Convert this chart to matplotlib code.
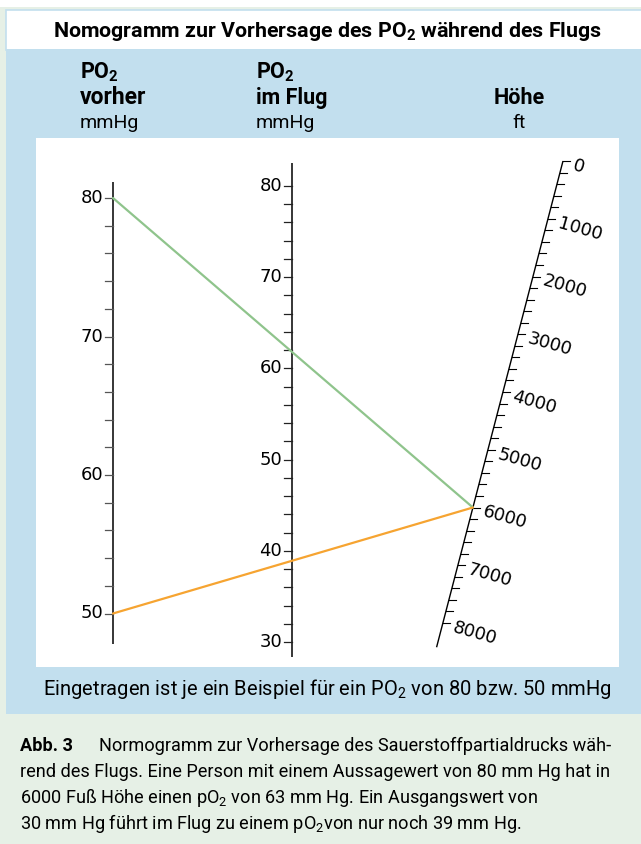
import matplotlib
matplotlib.use("Agg")
import numpy as np
import matplotlib.pyplot as plt
from matplotlib.patches import Rectangle

# scale ticks (mmHg before flight, mmHg in flight, altitude in ft)
pre_major = [50, 60, 70, 80]
pre_minor = np.arange(50, 81, 2)
flight_major = [30, 40, 50, 60, 70, 80]
flight_minor = np.arange(30, 81, 2)
alt_major = [0, 1000, 2000, 3000, 4000, 5000, 6000, 7000, 8000]
alt_minor = np.arange(0, 8001, 200)

# the two worked examples: PO2 before flight -> altitude
example_pre = [80, 50]
example_alt = [6000, 6000]
example_colors = ["#8fc48c", "#f6a431"]

plt.rcParams["mathtext.default"] = "regular"

BLUE = "#c2dfee"
GREEN = "#e6f0e6"


# pixel positions of the three nomogram scales
def pre_pos(v):
    return 113, 198 + (80 - v) * 13.85


def flight_pos(v):
    return 292, 186 + (80 - v) * 9.12


def alt_pos(h):
    y = 161 + h * 0.05775
    return 563 - (y - 161) * 0.26, y


fig = plt.figure(figsize=(6.41, 8.44), dpi=100, facecolor=GREEN)
ax = fig.add_axes([0, 0, 1, 1])
ax.set_xlim(0, 641)
ax.set_ylim(844, 0)
ax.axis("off")

# background boxes
ax.add_patch(Rectangle((0, 0), 641, 7, color="white", lw=0))
ax.add_patch(Rectangle((5.5, 10), 640, 40, facecolor="white", edgecolor=BLUE, lw=1.2))
ax.add_patch(Rectangle((6, 49), 635, 665, color=BLUE, lw=0))
ax.add_patch(Rectangle((36, 138), 583, 529, color="white", lw=0))

tf = dict(family=["Roboto", "DejaVu Sans"])
ax.text(328, 37, "Nomogramm zur Vorhersage des PO$_2$ während des Flugs", ha="center", va="baseline",
        fontsize=15.4, fontweight="bold", **tf)

# scale headers
ax.text(80, 78, "PO$_2$", fontsize=15.5, fontweight="bold", va="baseline", **tf)
ax.text(80, 104, "vorher", fontsize=16.5, fontweight="bold", va="baseline", **tf)
ax.text(80, 128, "mmHg", fontsize=14, va="baseline", **tf)
ax.text(256, 78, "PO$_2$", fontsize=15.5, fontweight="bold", va="baseline", **tf)
ax.text(256, 104, "im Flug", fontsize=15.5, fontweight="bold", va="baseline", **tf)
ax.text(256, 128, "mmHg", fontsize=14, va="baseline", **tf)
ax.text(519, 104, "Höhe", fontsize=15.5, fontweight="bold", va="baseline", ha="center", **tf)
ax.text(519, 128, "ft", fontsize=14, va="baseline", ha="center", **tf)

# left scale: PO2 before
x0, ytop = pre_pos(81.15)
_, ybot = pre_pos(47.8)
ax.plot([x0, x0], [ytop, ybot], color="black", lw=1.1, solid_capstyle="butt")
for v in pre_minor:
    x, y = pre_pos(v)
    ax.plot([x - 8, x], [y, y], color="#555555", lw=0.9)
for v in pre_major:
    x, y = pre_pos(v)
    ax.text(x - 10, y, str(v), ha="right", va="center", fontsize=13, family="DejaVu Sans")

# middle scale: PO2 in flight
x0, ytop = flight_pos(82.5)
_, ybot = flight_pos(28.4)
ax.plot([x0, x0], [ytop, ybot], color="black", lw=1.1, solid_capstyle="butt")
for v in flight_minor:
    x, y = flight_pos(v)
    ax.plot([x - 8, x], [y, y], color="#222222", lw=0.9)
for v in flight_major:
    x, y = flight_pos(v)
    ax.text(x - 10, y, str(v), ha="right", va="center", fontsize=13, family="DejaVu Sans")

# slanted altitude scale
xa, ya = alt_pos(0)
xb, yb = alt_pos(8420)
ax.plot([xa, xb], [ya, yb], color="black", lw=1.0, solid_capstyle="butt")
for h in alt_minor:
    x, y = alt_pos(h)
    ax.plot([x, x + 7], [y, y], color="black", lw=0.8)
for h in alt_major:
    x, y = alt_pos(h)
    ax.text(x + 10, y + 4, str(h), ha="left", va="center", rotation=-16, rotation_mode="anchor",
            fontsize=13, family="DejaVu Sans")

# example lines
for pre, alt, col in zip(example_pre, example_alt, example_colors):
    p0 = pre_pos(pre)
    p1 = alt_pos(alt)
    ax.plot([p0[0], p1[0]], [p0[1], p1[1]], color=col, lw=1.6, solid_capstyle="round")

ax.text(327, 695, "Eingetragen ist je ein Beispiel für ein PO$_2$ von 80 bzw. 50 mmHg", ha="center",
        va="baseline", fontsize=14.5, **tf)

# figure caption
cap = dict(fontsize=13.1, va="baseline", **tf)
ax.text(20, 751, "Abb. 3", fontweight="bold", **cap)
ax.text(99, 751, "Normogramm zur Vorhersage des Sauerstoffpartialdrucks wäh-", **cap)
ax.text(20, 777, "rend des Flugs. Eine Person mit einem Aussagewert von 80 mm Hg hat in", **cap)
ax.text(20, 803, "6000 Fuß Höhe einen pO$_2$ von 63 mm Hg. Ein Ausgangswert von", **cap)
ax.text(20, 829, "30 mm Hg führt im Flug zu einem pO$_2$von nur noch 39 mm Hg.", **cap)

fig.savefig("out.png", dpi=100, facecolor=GREEN)
